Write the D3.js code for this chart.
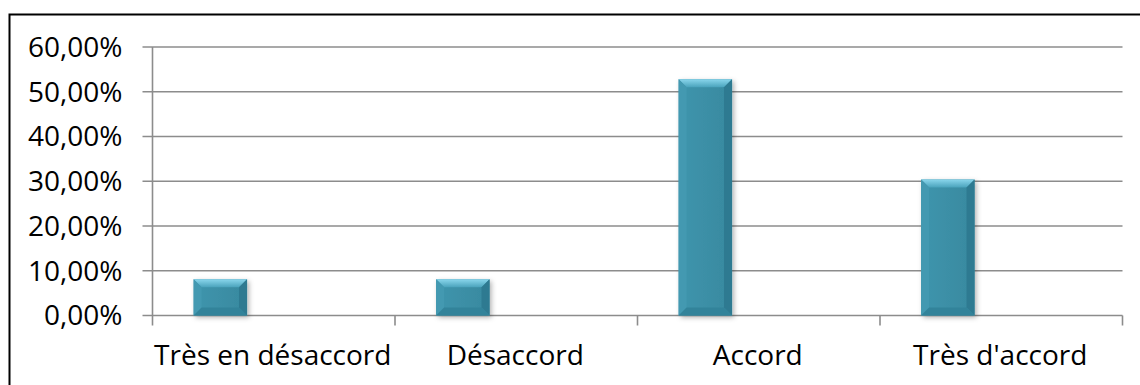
<!DOCTYPE html>
<html><head><meta charset="utf-8">
<script src="https://cdn.jsdelivr.net/npm/d3@7"></script>
<style>html,body{margin:0;padding:0;background:#fff;}svg{display:block;}</style>
</head><body>
<svg id="chart" width="1140" height="385"></svg>
<script>
const categories = ["Très en désaccord", "Désaccord", "Accord", "Très d'accord"];
const values = [8.1, 8.1, 52.8, 30.4];
const seriesSlots = ["Série1", "Série2", "Série3"];
const yTicks = [0, 10, 20, 30, 40, 50, 60];

(function () {
const svg = d3.select("#chart");
const W = 1140, H = 385;
const pLeft = 152.5, pRight = 1122.5, pTop = 47, pBottom = 315.5;
const fontFam = "'Open Sans', 'Noto Sans', sans-serif";

svg.append("path").attr("d", `M9.5,${H+2} L9.5,14.5 L${W+2},14.5`)
  .attr("fill", "none").attr("stroke", "#000").attr("stroke-width", 2);

const x0 = d3.scaleBand().domain(categories).range([pLeft, pRight]).padding(0);
const x1 = d3.scaleBand().domain(seriesSlots).range([0, x0.bandwidth()]).paddingInner(0).paddingOuter(0.77);
const y = d3.scaleLinear().domain([0, 60]).range([pBottom, pTop]);

const defs = svg.append("defs");
const f = defs.append("filter").attr("id", "shadow").attr("x", "-20%").attr("y", "-20%").attr("width", "150%").attr("height", "150%");
f.append("feDropShadow").attr("dx", 2).attr("dy", 2).attr("stdDeviation", 2.5).attr("flood-color", "#000").attr("flood-opacity", 0.3);

const gTop = defs.append("linearGradient").attr("id", "gTop").attr("x1", 0).attr("y1", 0).attr("x2", 0).attr("y2", 1);
gTop.append("stop").attr("offset", "0%").attr("stop-color", "#8ad6ec");
gTop.append("stop").attr("offset", "100%").attr("stop-color", "#4aa3bc");
const gFace = defs.append("linearGradient").attr("id", "gFace").attr("x1", 0).attr("y1", 0).attr("x2", 1).attr("y2", 0);
gFace.append("stop").attr("offset", "0%").attr("stop-color", "#3f95ad");
gFace.append("stop").attr("offset", "100%").attr("stop-color", "#38899f");

const grid = "#8c8c8c";
svg.append("g").selectAll("line").data(yTicks).join("line")
  .attr("x1", pLeft - 10).attr("x2", pRight)
  .attr("y1", d => y(d)).attr("y2", d => y(d))
  .attr("stroke", grid).attr("stroke-width", 1.6);

svg.append("line").attr("x1", pLeft).attr("x2", pLeft).attr("y1", pTop).attr("y2", pBottom + 10)
  .attr("stroke", grid).attr("stroke-width", 1.6);
const catEdges = categories.map(c => x0(c) + x0.bandwidth());
svg.append("g").selectAll("line").data(catEdges).join("line")
  .attr("x1", d => d).attr("x2", d => d).attr("y1", pBottom).attr("y2", pBottom + 10)
  .attr("stroke", grid).attr("stroke-width", 1.6);

svg.append("g").selectAll("text").data(yTicks).join("text")
  .attr("x", pLeft - 30).attr("y", d => y(d)).attr("dy", "0.35em")
  .attr("text-anchor", "end").attr("font-family", fontFam).attr("font-size", 28).attr("fill", "#000")
  .text(d => d3.format(".2f")(d).replace(".", ",") + "%");

svg.append("g").selectAll("text").data(categories).join("text")
  .attr("x", d => x0(d) + x0.bandwidth() / 2 - 1).attr("y", 365)
  .attr("text-anchor", "middle").attr("font-family", fontFam).attr("font-size", 28).attr("fill", "#000")
  .text(d => d);

const bv = 8;
const bars = svg.append("g").selectAll("g").data(categories.map((c, i) => ({c, v: values[i]}))).join("g");
bars.each(function(d) {
  const g = d3.select(this);
  const bx = x0(d.c) + x1("Série1"), bw = x1.bandwidth();
  const by = y(d.v), bh = y(0) - y(d.v);
  const b = Math.min(bv, bh / 2.5);
  g.append("rect").attr("x", bx).attr("y", by).attr("width", bw).attr("height", bh)
    .attr("fill", "url(#gFace)").attr("filter", "url(#shadow)");
  g.append("polygon").attr("points", `${bx},${by} ${bx+bw},${by} ${bx+bw-b},${by+b} ${bx+b},${by+b}`).attr("fill", "url(#gTop)");
  g.append("polygon").attr("points", `${bx},${by} ${bx+b},${by+b} ${bx+b},${by+bh-b} ${bx},${by+bh}`).attr("fill", "#4399b1");
  g.append("polygon").attr("points", `${bx+bw},${by} ${bx+bw-b},${by+b} ${bx+bw-b},${by+bh-b} ${bx+bw},${by+bh}`).attr("fill", "#2e7a91");
  g.append("polygon").attr("points", `${bx},${by+bh} ${bx+b},${by+bh-b} ${bx+bw-b},${by+bh-b} ${bx+bw},${by+bh}`).attr("fill", "#32839a");
});
})();
</script>
</body></html>
